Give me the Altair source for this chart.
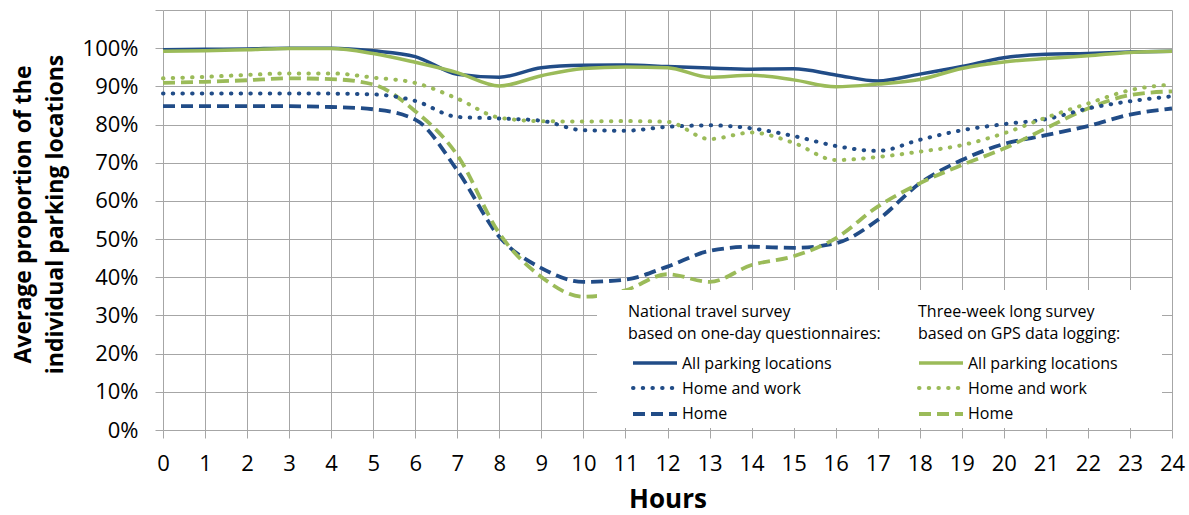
import altair as alt
import pandas as pd

# Hour of day (x) and average share of parked vehicles per location type (%)
hours = list(range(25))

nat_all = [99.6, 99.7, 99.8, 100.0, 100.0, 99.3, 97.8, 93.2, 92.4, 94.9, 95.5, 95.6, 95.2,
           94.8, 94.5, 94.6, 93.0, 91.4, 93.2, 95.2, 97.5, 98.4, 98.6, 99.0, 99.2]
nat_home_work = [88.1, 88.1, 88.1, 88.1, 88.1, 87.9, 86.2, 82.0, 81.6, 81.0, 78.5, 78.4, 79.4,
                 79.8, 79.0, 77.0, 74.4, 73.1, 76.0, 78.5, 80.1, 81.4, 84.2, 86.1, 87.4]
nat_home = [84.8, 84.8, 84.8, 84.8, 84.6, 84.0, 81.3, 68.0, 50.6, 42.4, 38.8, 39.4, 42.8,
            46.9, 48.0, 47.7, 48.9, 55.0, 64.6, 70.7, 74.9, 77.2, 79.6, 82.6, 84.2]

gps_all = [99.2, 99.3, 99.6, 99.9, 99.9, 98.6, 96.3, 93.6, 90.1, 92.8, 94.7, 95.1, 94.9,
           92.4, 92.9, 91.7, 89.9, 90.6, 91.8, 94.7, 96.4, 97.3, 98.0, 98.9, 99.2]
gps_home_work = [92.1, 92.5, 93.0, 93.4, 93.4, 92.3, 90.9, 86.8, 81.8, 80.9, 80.8, 80.9, 80.7,
                 76.2, 77.9, 75.2, 70.7, 71.5, 72.9, 74.6, 77.7, 81.8, 85.5, 89.0, 90.5]
gps_home = [90.9, 91.2, 91.6, 92.1, 91.9, 90.5, 83.5, 72.0, 51.5, 40.1, 34.9, 36.6, 40.8,
            38.8, 43.2, 45.5, 50.2, 58.5, 64.6, 69.4, 73.7, 79.0, 84.2, 87.7, 88.7]

surveys = ["national", "gps"]
survey_titles = {
    "national": ["National travel survey", "based on one-day questionnaires:"],
    "gps": ["Three-week long survey", "based on GPS data logging:"],
}
kinds = ["all", "home_work", "home"]
kind_labels = {"all": "All parking locations", "home_work": "Home and work", "home": "Home"}
survey_colors = {"national": "#214C87", "gps": "#9BBB59"}

series = {
    ("national", "all"): nat_all,
    ("national", "home_work"): nat_home_work,
    ("national", "home"): nat_home,
    ("gps", "all"): gps_all,
    ("gps", "home_work"): gps_home_work,
    ("gps", "home"): gps_home,
}

rows = []
for (survey, kind), values in series.items():
    for h, v in zip(hours, values):
        rows.append({"hour": h, "value": v, "survey": survey, "kind": kind})
df = pd.DataFrame(rows)

FONT = "Open Sans"
GRID = "#A6A6A6"

# Line styles per location type
styles = {
    "all": dict(strokeWidth=3.5, strokeCap="butt"),
    "home_work": dict(strokeWidth=4, strokeDash=[0.5, 9.2], strokeCap="round"),
    "home": dict(strokeWidth=3.8, strokeDash=[12, 6], strokeCap="butt"),
}

x_enc = alt.X(
    "hour:Q",
    scale=alt.Scale(domain=[0, 24], nice=False, zero=False),
    axis=alt.Axis(
        values=hours, grid=True, gridColor=GRID, gridWidth=1, domain=False,
        tickSize=8, tickColor=GRID, labelPadding=15, labelFontSize=22, labelFont=FONT,
        labelColor="#000000", labelFlush=False, labelOverlap=False,
        title="Hours", titleFont=FONT, titleFontSize=26, titleFontWeight="bold",
        titleColor="#000000", titleY=77, titleBaseline="alphabetic",
    ),
)
y_enc = alt.Y(
    "value:Q",
    scale=alt.Scale(domain=[0, 110], nice=False),
    axis=alt.Axis(
        values=list(range(0, 111, 10)), grid=True, gridColor=GRID, gridWidth=1, domain=False,
        tickSize=8, tickColor=GRID, labelPadding=17, labelFontSize=22, labelFont=FONT,
        labelColor="#000000",
        labelExpr="datum.value > 105 ? '' : datum.value + '%'",
        title=["Average proportion of the", "individual parking locations"],
        titleFont=FONT, titleFontSize=23, titleFontWeight="bold", titleColor="#000000",
        titleAngle=-90, titleX=-151, titleY=204, titleAlign="center", titleBaseline="top",
        titleLineHeight=32,
    ),
)
color_enc = alt.Color(
    "survey:N",
    scale=alt.Scale(domain=surveys, range=[survey_colors[s] for s in surveys]),
    legend=None,
)

base = alt.Chart(df)

# White legend panel inside the plot area
panel = alt.Chart(pd.DataFrame({"k": [0]})).mark_rect(fill="white").encode(
    x=alt.value(434), x2=alt.value(999), y=alt.value(280), y2=alt.value(418)
)

lines = []
for kind in ["home", "home_work", "all"]:
    lines.append(
        base.transform_filter(alt.datum.kind == kind)
        .mark_line(interpolate="monotone", **styles[kind])
        .encode(x=x_enc, y=y_enc, color=color_enc, detail="survey:N")
    )

# Legend: one column per survey
legend_layers = []
columns = {"national": dict(tx=465, sx0=470, sx1=514, lx=519),
           "gps": dict(tx=755, sx0=756, sx1=800, lx=805)}
title_rows = [307, 329]
entry_rows = {"all": 359, "home_work": 384, "home": 409}
symbol_rows = {"all": 353, "home_work": 378, "home": 404}
one = pd.DataFrame({"k": [0]})
for survey in surveys:
    col = columns[survey]
    for line_text, ty in zip(survey_titles[survey], title_rows):
        legend_layers.append(
            alt.Chart(one).mark_text(
                text=line_text, font=FONT, fontSize=16, color="#000000",
                align="left", baseline="alphabetic",
            ).encode(x=alt.value(col["tx"]), y=alt.value(ty))
        )
    for kind in kinds:
        legend_layers.append(
            alt.Chart(one).mark_rule(color=survey_colors[survey], **styles[kind]).encode(
                x=alt.value(col["sx0"]), x2=alt.value(col["sx1"]),
                y=alt.value(symbol_rows[kind]),
            )
        )
        legend_layers.append(
            alt.Chart(one).mark_text(
                text=kind_labels[kind], font=FONT, fontSize=16, color="#000000",
                align="left", baseline="alphabetic",
            ).encode(x=alt.value(col["lx"]), y=alt.value(entry_rows[kind]))
        )

chart = alt.layer(*lines[:1], panel, *lines[1:], *legend_layers).properties(
    width=1009,
    height=420,
    autosize=alt.AutoSizeParams(type="none"),
    padding={"left": 163, "top": 10, "right": 17, "bottom": 85},
    background="white",
).configure_view(stroke=None)

chart.save("out.html", embed_options={"renderer": "svg", "actions": False})
